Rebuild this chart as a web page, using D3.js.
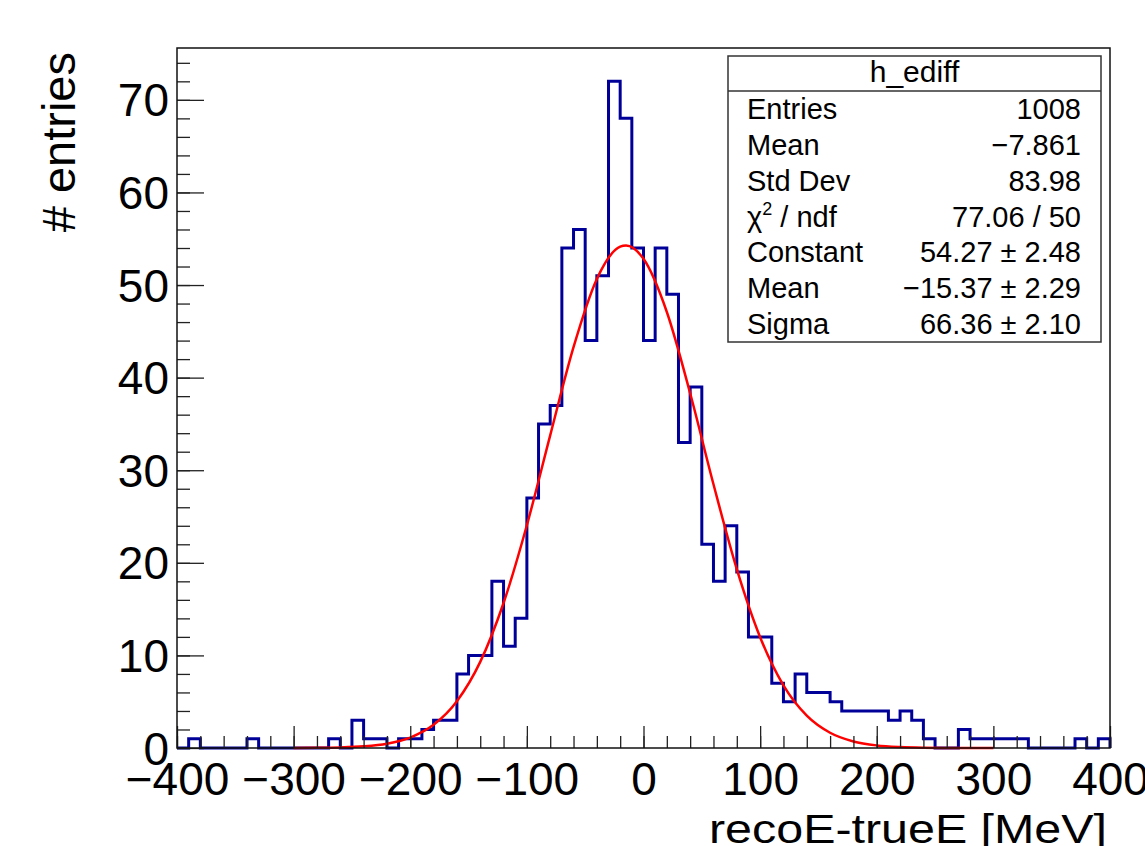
<!DOCTYPE html>
<html>
<head>
<meta charset="utf-8">
<script src="https://cdn.jsdelivr.net/npm/d3@7"></script>
<style>
  html, body { margin: 0; padding: 0; background: #fff; }
  svg { display: block; font-family: "Liberation Sans", Arial, Helvetica, sans-serif; }
</style>
</head>
<body>
<div id="root"></div>
<script>
// histogram h_ediff: 80 bins of 10 MeV from -400 to 400
const binEdges = d3.range(-400, 401, 10);
const binCounts = [
  0, 1, 0, 0, 0, 0, 1, 0, 0, 0,
  0, 0, 0, 1, 0, 3, 1, 1, 0, 1,
  1, 2, 3, 3, 8, 10, 10, 18, 11, 14,
  27, 35, 37, 54, 56, 44, 51, 72, 68, 54,
  44, 54, 49, 33, 39, 22, 18, 24, 19, 12,
  12, 7, 5, 8, 6, 6, 5, 4, 4, 4,
  4, 3, 4, 3, 1, 0, 0, 2, 1, 1,
  1, 1, 1, 0, 0, 0, 0, 1, 0, 1,
];

// gaus fit curve
const fitX = [-300, -280, -260, -240, -220, -200, -180, -160, -140, -120, -100, -80, -60, -40, -20, -15, 0,
  20, 40, 60, 80, 100, 120, 140, 160, 180, 200, 220, 240, 260, 280, 300];
const fitY = [0.01, 0.02, 0.06, 0.18, 0.47, 1.13, 2.5, 5.05, 9.3, 15.66, 24.06, 33.77, 43.29, 50.66, 54.14, 54.27, 52.83,
  47.09, 38.31, 28.48, 19.32, 11.97, 6.77, 3.5, 1.65, 0.71, 0.28, 0.1, 0.03, 0.01, 0.0, 0.0];

const xTicks = d3.range(-400, 401, 100);
const yTicks = d3.range(0, 71, 10);

const statsTitle = "h_ediff";
const statsLabels = ["Entries", "Mean", "Std Dev", "chi2", "Constant", "Mean", "Sigma"];
const statsValues = ["1008", "\u22127.861", "83.98", "77.06 / 50", "54.27 \u00b1 2.48", "\u221215.37 \u00b1 2.29", "66.36 \u00b1 2.10"];

const width = 1145;
const height = 846;
const frame = { left: 177, right: 1110, top: 48, bottom: 748 };
const yMax = 75.6;
const histColor = "#000099";
const fitColor = "#ff0000";

const svg = d3.select("#root").append("svg")
  .attr("width", width)
  .attr("height", height);

const x = d3.scaleLinear().domain([-400, 400]).range([frame.left, frame.right]);
const y = d3.scaleLinear().domain([0, yMax]).range([frame.bottom, frame.top]);

// histogram outline
const steps = [[binEdges[0], 0]];
binCounts.forEach((c, i) => {
  steps.push([binEdges[i], c], [binEdges[i + 1], c]);
});
steps.push([binEdges[binEdges.length - 1], 0]);

svg.append("path")
  .datum(steps)
  .attr("fill", "none")
  .attr("stroke", histColor)
  .attr("stroke-width", 3)
  .attr("stroke-linejoin", "miter")
  .attr("d", d3.line().x(d => x(d[0])).y(d => y(d[1])));

// fit
svg.append("path")
  .datum(fitX.map((v, i) => [v, fitY[i]]))
  .attr("fill", "none")
  .attr("stroke", fitColor)
  .attr("stroke-width", 2.5)
  .attr("d", d3.line().x(d => x(d[0])).y(d => y(d[1])).curve(d3.curveMonotoneX));

// axes, ticks pointing into the frame
const yAxis = svg.append("g")
  .attr("transform", `translate(${frame.left},0)`)
  .call(d3.axisLeft(y).tickValues(yTicks).tickSizeInner(-27).tickSizeOuter(0).tickPadding(8));
svg.append("g")
  .attr("transform", `translate(${frame.left},0)`)
  .call(d3.axisLeft(y).tickValues(d3.range(0, yMax, 2)).tickSizeInner(-13).tickSizeOuter(0).tickFormat(""));

svg.append("g")
  .attr("transform", `translate(0,${frame.bottom})`)
  .call(d3.axisBottom(x).tickValues(xTicks).tickSizeInner(-22).tickSizeOuter(0).tickPadding(14));
svg.append("g")
  .attr("transform", `translate(0,${frame.bottom})`)
  .call(d3.axisBottom(x).tickValues(d3.range(-400, 401, 20)).tickSizeInner(-12).tickSizeOuter(0).tickFormat(""));

svg.selectAll(".domain").remove();
svg.selectAll(".tick line").attr("stroke", "#222").attr("stroke-width", 1.3);
svg.selectAll(".tick text")
  .attr("font-family", "Liberation Sans, Arial, sans-serif")
  .attr("font-size", 46)
  .attr("fill", "#000");
yAxis.selectAll(".tick text").attr("dy", "0.35em");

svg.append("rect")
  .attr("x", frame.left)
  .attr("y", frame.top)
  .attr("width", frame.right - frame.left)
  .attr("height", frame.bottom - frame.top)
  .attr("fill", "none")
  .attr("stroke", "#111")
  .attr("stroke-width", 1.5);

// axis titles
svg.append("text")
  .attr("x", frame.right - 3)
  .attr("y", 843)
  .attr("text-anchor", "end")
  .attr("font-size", 41)
  .attr("textLength", 398)
  .attr("lengthAdjust", "spacingAndGlyphs")
  .text("recoE-trueE [MeV]");

svg.append("text")
  .attr("transform", `translate(75,${frame.top + 4}) rotate(-90)`)
  .attr("text-anchor", "end")
  .attr("font-size", 47)
  .text("# entries");

// stats box
const box = { left: 728, right: 1101, top: 56, head: 91, bottom: 342 };
const rowH = (box.bottom - box.head) / statsLabels.length;
const stats = svg.append("g");

stats.append("rect")
  .attr("x", box.left)
  .attr("y", box.top)
  .attr("width", box.right - box.left)
  .attr("height", box.bottom - box.top)
  .attr("fill", "#fff")
  .attr("stroke", "#333")
  .attr("stroke-width", 1.5);

stats.append("line")
  .attr("x1", box.left).attr("x2", box.right)
  .attr("y1", box.head).attr("y2", box.head)
  .attr("stroke", "#333")
  .attr("stroke-width", 1.5);

stats.append("text")
  .attr("x", (box.left + box.right) / 2)
  .attr("y", box.head - 9)
  .attr("text-anchor", "middle")
  .attr("font-size", 30)
  .text(statsTitle);

statsLabels.forEach((label, i) => {
  const yy = box.head + rowH * (i + 0.5) + 10;
  const t = stats.append("text")
    .attr("x", box.left + 19)
    .attr("y", yy)
    .attr("font-size", 29);
  if (label === "chi2") {
    t.append("tspan").text("\u03c7");
    t.append("tspan").attr("font-size", 18).attr("dy", -12).text("2");
    t.append("tspan").attr("dy", 12).text(" / ndf");
  } else {
    t.text(label);
  }
  stats.append("text")
    .attr("x", box.right - 20)
    .attr("y", yy)
    .attr("text-anchor", "end")
    .attr("font-size", 29)
    .text(statsValues[i]);
});
</script>
</body>
</html>
